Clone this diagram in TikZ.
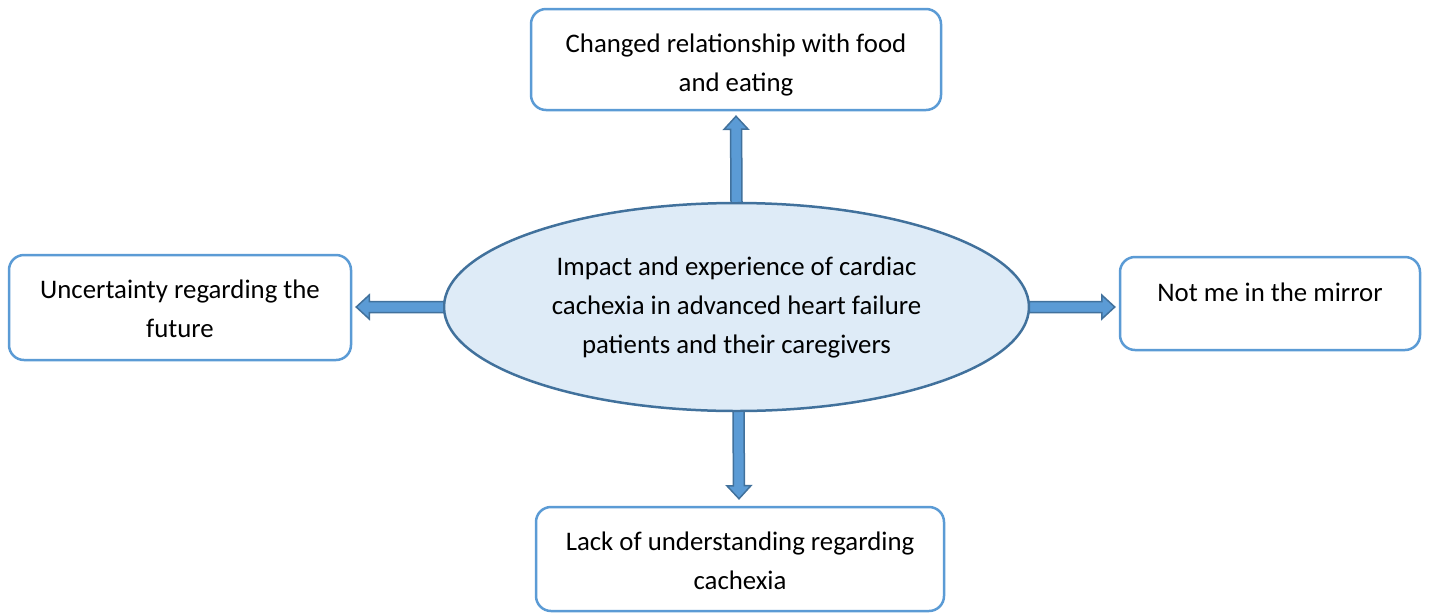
\documentclass[tikz,border=0pt]{standalone}
\usepackage{fontspec}
\setmainfont{Carlito}
\usetikzlibrary{shapes.geometric,calc}
\definecolor{boxline}{HTML}{5B9BD5}
\definecolor{ellline}{HTML}{41719C}
\definecolor{ellfill}{HTML}{DEEBF7}
\definecolor{arrfill}{HTML}{5B9BD5}
% block arrow from #1 (tail) to #2 (tip)
\newcommand{\blockarrow}[2]{%
  \coordinate (hb) at ($(#2)!13pt!(#1)$);
  \draw[barrow]
    ($(#1)!5.5pt!90:(#2)$) -- ($(hb)!5.5pt!90:(#2)$) -- ($(hb)!12pt!90:(#2)$) -- (#2)
    -- ($(hb)!12pt!-90:(#2)$) -- ($(hb)!5.5pt!-90:(#2)$) -- ($(#1)!5.5pt!-90:(#2)$) -- cycle;}
\tikzset{
  themebox/.style={draw=boxline, line width=2.5pt, rounded corners=15pt, fill=white, inner sep=0pt},
  themetxt/.style={font=\fontsize{26.8}{39}\selectfont, align=center, anchor=north, inner sep=0pt, text=black},
  central/.style={ellipse, draw=ellline, fill=ellfill, line width=2.5pt, minimum width=585pt, minimum height=208pt, inner sep=0pt, font=\fontsize{26.8}{39}\selectfont, align=center},
  barrow/.style={draw=ellline, fill=arrfill, line width=1.5pt, line join=miter}
}
\begin{document}
\begin{tikzpicture}[x=1pt,y=-1pt]
\useasboundingbox (0,0) rectangle (1429,614);
% boxes
\node[themebox, minimum width=410pt, minimum height=101pt] (top) at (736,59.5) {};
\node[themebox, minimum width=342pt, minimum height=105pt] (left) at (180,307.5) {};
\node[themebox, minimum width=300pt, minimum height=93pt] (right) at (1270,303.5) {};
\node[themebox, minimum width=408pt, minimum height=104pt] (bottom) at (740,559) {};
% texts
\node[themetxt] (toptxt) at ($(top.north)+(0,26)$) {Changed relationship with food\\and eating};
\node[themetxt] (lefttxt) at ($(left.north)+(0,26)$) {Uncertainty regarding the\\future};
\node[themetxt] (righttxt) at ($(right.north)+(0,27)$) {Not me in the mirror};
\node[themetxt] (bottomtxt) at ($(bottom.north)+(0,26)$) {Lack of understanding regarding\\cachexia};
% central ellipse
\node[central] (ell) at (736.5,307) {\raisebox{2pt}{\begin{tabular}{@{}c@{}}Impact and experience of cardiac\\cachexia in advanced heart failure\\patients and their caregivers\end{tabular}}};
% arrow endpoints
\coordinate (upTail) at ($(ell.north)+(0,1)$);
\coordinate (upTip) at ($(top.south)+(0,5)$);
\coordinate (lfTail) at ($(ell.west)+(1,0)$);
\coordinate (lfTip) at ($(ell.west -| left.east)+(4,0)$);
\coordinate (rtTail) at ($(ell.east)+(-1,0)$);
\coordinate (rtTip) at ($(ell.east -| right.west)+(-4,0)$);
\coordinate (dnTail) at ($(ell.south)+(2,-1)$);
\coordinate (dnTip) at ($(bottom.north)+(-1,-7)$);
\blockarrow{upTail}{upTip}
\blockarrow{lfTail}{lfTip}
\blockarrow{rtTail}{rtTip}
\blockarrow{dnTail}{dnTip}
\end{tikzpicture}
\end{document}
